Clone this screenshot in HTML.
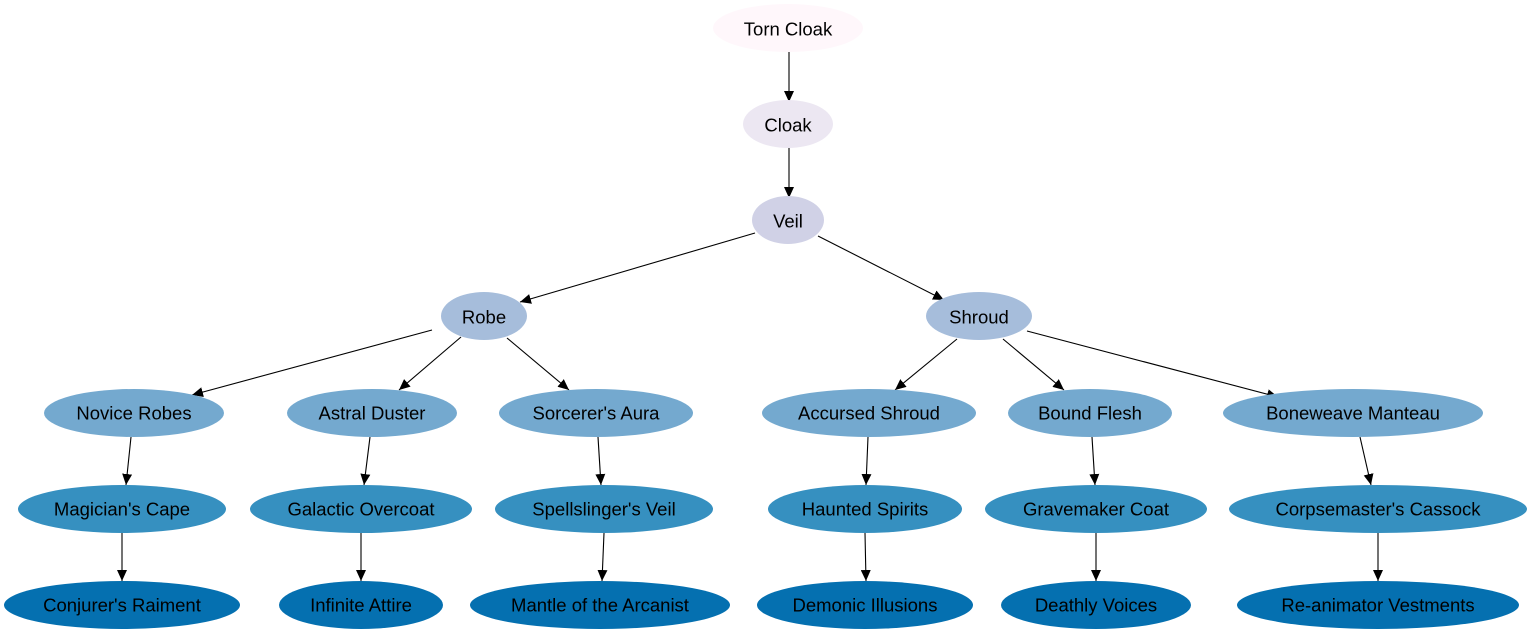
<!DOCTYPE html>
<html><head><meta charset="utf-8"><style>body{margin:0;background:#fff}svg{display:block}text{font-family:"Liberation Sans",Arial,sans-serif;font-size:18.5px;fill:#000;text-anchor:middle;dominant-baseline:central}</style></head>
<body>
<svg width="1532" height="635" viewBox="0 0 1532 635" xmlns="http://www.w3.org/2000/svg">
<defs><marker id="a" markerUnits="userSpaceOnUse" markerWidth="12" markerHeight="10" refX="11" refY="5" orient="auto"><path d="M0,0 L11,5 L0,10 Z" fill="#000"/></marker></defs>
<g stroke="#000" stroke-width="1.1" marker-end="url(#a)">
<line x1="789" y1="52" x2="789" y2="102"/>
<line x1="789" y1="148" x2="789" y2="198"/>
<line x1="755" y1="233" x2="520" y2="302"/>
<line x1="818" y1="236" x2="944" y2="300"/>
<line x1="432" y1="330" x2="192" y2="395"/>
<line x1="461" y1="337" x2="399" y2="390"/>
<line x1="507" y1="338" x2="569" y2="390"/>
<line x1="957" y1="339" x2="895" y2="390"/>
<line x1="1003" y1="339" x2="1064" y2="390"/>
<line x1="1027" y1="331" x2="1278" y2="397"/>
<line x1="131" y1="437" x2="126" y2="485"/>
<line x1="370" y1="437" x2="364" y2="485"/>
<line x1="598" y1="437" x2="601" y2="485"/>
<line x1="868" y1="437" x2="866" y2="485"/>
<line x1="1092" y1="437" x2="1095" y2="485"/>
<line x1="1360" y1="437" x2="1371" y2="485"/>
<line x1="122" y1="533" x2="122" y2="581"/>
<line x1="361" y1="533" x2="361" y2="581"/>
<line x1="604" y1="533" x2="602" y2="581"/>
<line x1="865" y1="533" x2="866" y2="581"/>
<line x1="1096" y1="533" x2="1096" y2="581"/>
<line x1="1378" y1="533" x2="1378" y2="581"/>
</g>
<ellipse cx="788" cy="28" rx="75" ry="24" fill="#fff7fb"/><text x="788" y="29">Torn Cloak</text>
<ellipse cx="788" cy="124" rx="45" ry="24" fill="#ece7f2"/><text x="788" y="125">Cloak</text>
<ellipse cx="788" cy="220" rx="36" ry="24" fill="#d0d1e6"/><text x="788" y="221">Veil</text>
<ellipse cx="484" cy="316" rx="43" ry="24" fill="#a6bddb"/><text x="484" y="317">Robe</text>
<ellipse cx="979" cy="316" rx="53" ry="24" fill="#a6bddb"/><text x="979" y="317">Shroud</text>
<g fill="#74a9cf">
<ellipse cx="134" cy="413" rx="90" ry="24"/><ellipse cx="372" cy="413" rx="85" ry="24"/><ellipse cx="596" cy="413" rx="97" ry="24"/>
<ellipse cx="869" cy="413" rx="107" ry="24"/><ellipse cx="1090" cy="413" rx="82" ry="24"/><ellipse cx="1353" cy="413" rx="130" ry="24"/></g>
<text x="134" y="413">Novice Robes</text><text x="372" y="413">Astral Duster</text><text x="596" y="413">Sorcerer's Aura</text>
<text x="869" y="413">Accursed Shroud</text><text x="1090" y="413">Bound Flesh</text><text x="1353" y="413">Boneweave Manteau</text>
<g fill="#3690c0">
<ellipse cx="122" cy="509" rx="104" ry="24"/><ellipse cx="361" cy="509" rx="111" ry="24"/><ellipse cx="604" cy="509" rx="109" ry="24"/>
<ellipse cx="865" cy="509" rx="97" ry="24"/><ellipse cx="1096" cy="509" rx="111" ry="24"/><ellipse cx="1378" cy="509" rx="149" ry="24"/></g>
<text x="122" y="509">Magician's Cape</text><text x="361" y="509">Galactic Overcoat</text><text x="604" y="509">Spellslinger's Veil</text>
<text x="865" y="509">Haunted Spirits</text><text x="1096" y="509">Gravemaker Coat</text><text x="1378" y="509">Corpsemaster's Cassock</text>
<g fill="#0570b0">
<ellipse cx="122" cy="605" rx="118" ry="24"/><ellipse cx="361" cy="605" rx="82" ry="24"/><ellipse cx="600" cy="605" rx="130" ry="24"/>
<ellipse cx="865" cy="605" rx="108" ry="24"/><ellipse cx="1096" cy="605" rx="95" ry="24"/><ellipse cx="1378" cy="605" rx="141" ry="24"/></g>
<text x="122" y="605">Conjurer's Raiment</text><text x="361" y="605">Infinite Attire</text><text x="600" y="605">Mantle of the Arcanist</text>
<text x="865" y="605">Demonic Illusions</text><text x="1096" y="605">Deathly Voices</text><text x="1378" y="605">Re-animator Vestments</text>
</svg>
</body></html>
